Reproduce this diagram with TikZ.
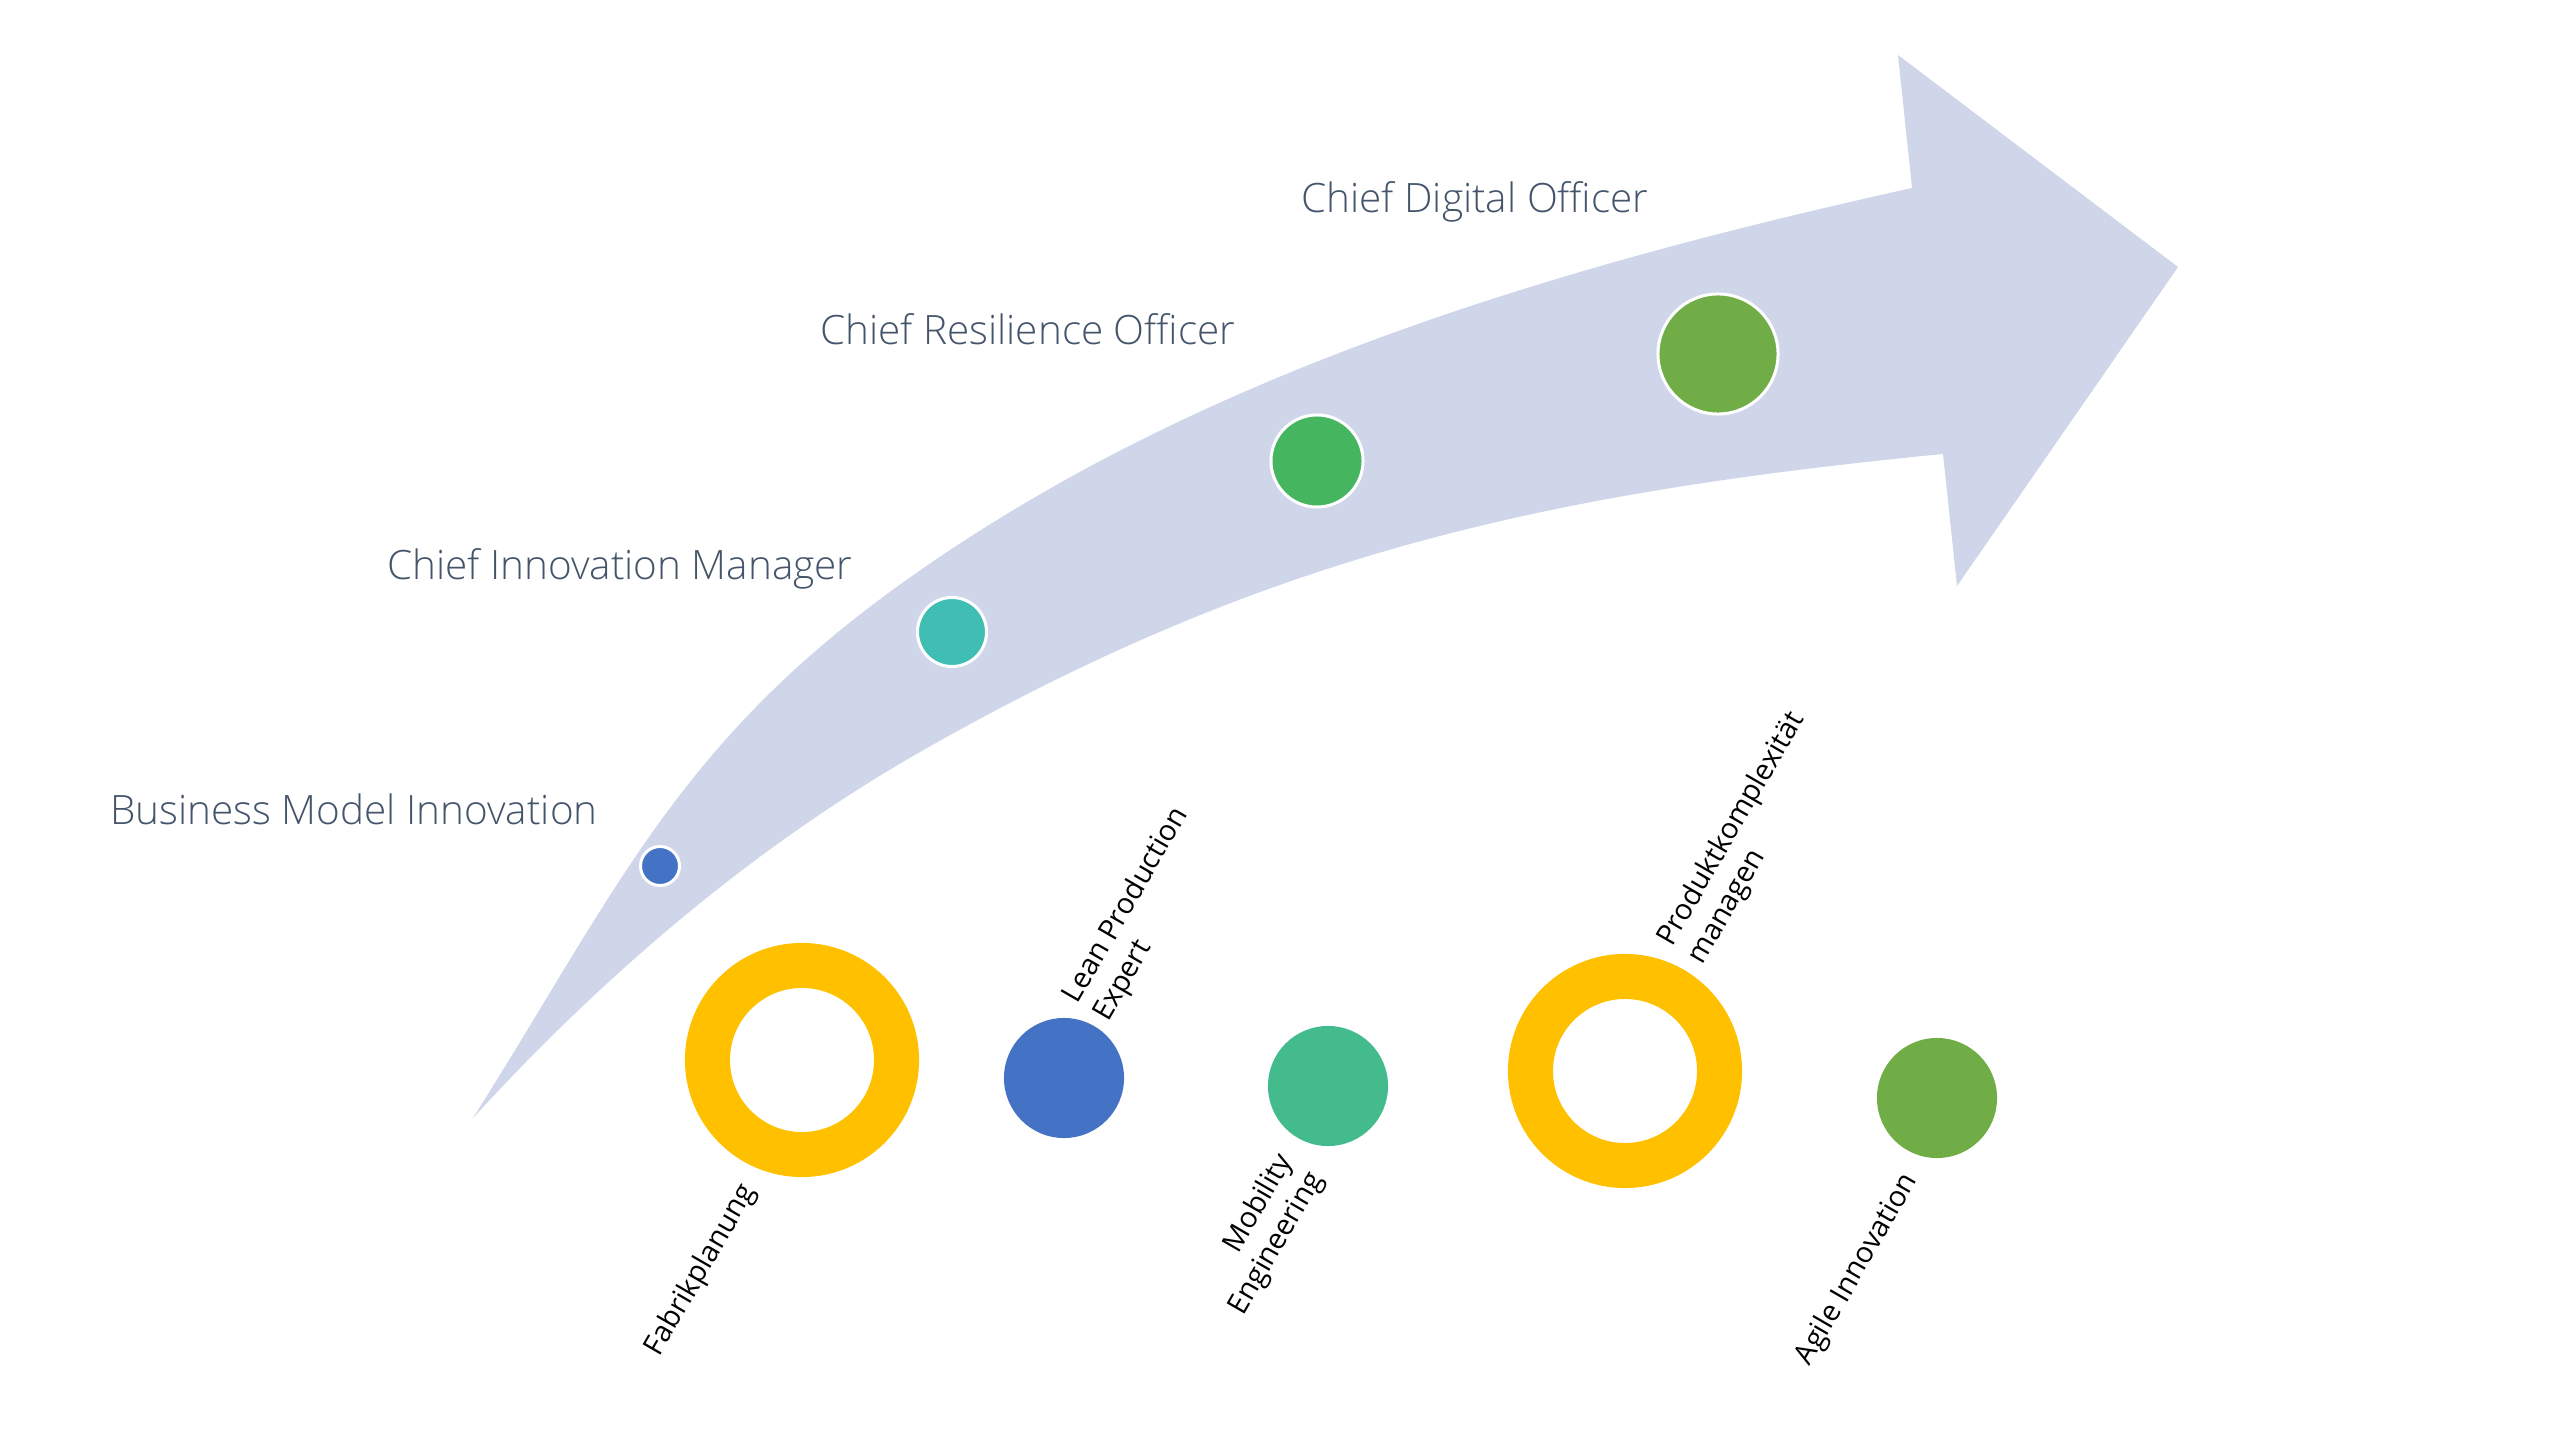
\documentclass[tikz,border=0pt]{standalone}
\usepackage{fontspec}
\setmainfont{Open Sans}
\IfFontExistsTF{Open Sans Light}{\newfontfamily\thinfont{Open Sans Light}}{\newfontfamily\thinfont{Open Sans}}
\usetikzlibrary{calc}
\definecolor{band}{RGB}{207,214,234}
\definecolor{rolegray}{RGB}{68,84,106}
\definecolor{bmiblue}{RGB}{68,114,196}
\definecolor{cimteal}{RGB}{64,190,180}
\definecolor{crogreen}{RGB}{70,181,96}
\definecolor{cdogreen}{RGB}{112,173,71}
\definecolor{ringyellow}{RGB}{255,192,0}
\definecolor{mobgreen}{RGB}{68,187,140}
\tikzstyle{dot} = [circle, draw=white, line width=0.03cm, inner sep=0pt]
\tikzstyle{ball} = [circle, inner sep=0pt, minimum size=1.2cm]
\tikzstyle{ring} = [circle, draw=ringyellow, line width=0.45cm, inner sep=0pt, minimum size=1.89cm]
\tikzstyle{role} = [text=rolegray, inner sep=0pt, font=\thinfont\fontsize{11.5}{14}\selectfont]
\tikzstyle{topic} = [rotate=60, inner sep=0pt, font=\fontsize{8.2}{10}\selectfont]

\begin{document}
\begin{tikzpicture}[x=0.01cm, y=-0.01cm]

            \useasboundingbox (0,0) rectangle (2560,1440);

            %% arrow
            \fill [band] (473,1118) .. controls (612,898) and (674,752) .. (883,597)
                .. controls (1180,377) and (1551,268) .. (1912,188)
                -- (1898,55) -- (2178,267) -- (1957,586) -- (1943,454)
                .. controls (1545,493) and (1267,554) .. (920,752)
                .. controls (752,848) and (603,976) .. (473,1118) -- cycle;

            \node (bmi) [dot, fill=bmiblue, minimum size=0.39cm] at (660,866) {};
            \node (cim) [dot, fill=cimteal, minimum size=0.69cm] at (952,632) {};
            \node (cro) [dot, fill=crogreen, minimum size=0.92cm] at (1317,461) {};
            \node (cdo) [dot, fill=cdogreen, minimum size=1.2cm] at (1718,354) {};

            \node (bmitxt) [role, anchor=base] at (354,825) {Business Model Innovation};
            \node (cimtxt) [role, anchor=base] at (620,580) {Chief Innovation Manager};
            \node (crotxt) [role, anchor=base] at (1028,345) {Chief Resilience Officer};
            \node (cdotxt) [role, anchor=base] at (1475,213) {Chief Digital Officer};

            %% topics

            \node (fab) [ring] at (802,1060) {};
            \node (lean) [ball, fill=bmiblue] at (1064,1078) {};
            \node (mob) [ball, fill=mobgreen] at (1328,1086) {};
            \node (prod) [ring] at (1625,1071) {};
            \node (agi) [ball, fill=cdogreen] at (1937,1098) {};

            \node (fabtxt) [topic, anchor=east] at ($(fab.240)+(6,25)$) {Fabrikplanung};
            \node (leantxt) [topic, anchor=west, align=left] at ($(lean.60)+(-8,-15)$) {Lean Production\\Expert};
            \node (mobtxt) [topic, anchor=east, align=right] at ($(mob.240)+(4,27)$) {Mobility\\Engineering};
            \node (prodtxt) [topic, anchor=west, align=left] at ($(prod.60)+(-3,-16)$) {Produktkomplexität\\managen};
            \node (agitxt) [topic, anchor=east] at ($(agi.240)+(5,25)$) {Agile Innovation};

\end{tikzpicture}
\end{document}
